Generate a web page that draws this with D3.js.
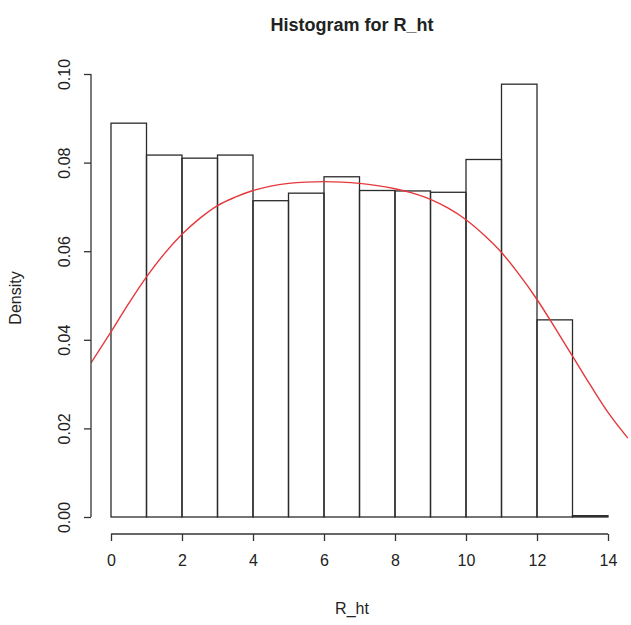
<!DOCTYPE html>
<html>
<head>
<meta charset="utf-8">
<script src="https://cdn.jsdelivr.net/npm/d3@7"></script>
<style>
  body { margin: 0; background: #fff; }
  text { font-family: "Liberation Sans", Arial, sans-serif; fill: #222; }
</style>
</head>
<body>
<div id="chart"></div>
<script>
// histogram bins (width 1) and their densities
var binStarts = [0, 1, 2, 3, 4, 5, 6, 7, 8, 9, 10, 11, 12, 13];
var densities = [0.0889, 0.0817, 0.0810, 0.0817, 0.0714, 0.0731, 0.0768,
                 0.0737, 0.0736, 0.0733, 0.0807, 0.0977, 0.0445, 0.0003];

// red density curve
var curveX = [-0.56, 0, 0.5, 1, 1.5, 2, 2.5, 3, 3.5, 4, 4.5, 5, 5.5, 6, 6.5,
              7, 7.5, 8, 8.5, 9, 9.5, 10, 10.5, 11, 11.5, 12, 12.5, 13, 13.5,
              14, 14.56];
var curveY = [0.0348, 0.0418, 0.0482, 0.0542, 0.0594, 0.0638, 0.0674, 0.0703,
              0.0722, 0.0737, 0.0747, 0.0753, 0.0756, 0.0757, 0.0756, 0.0753,
              0.0748, 0.0741, 0.0731, 0.0717, 0.0697, 0.0671, 0.0637, 0.0597,
              0.0547, 0.0491, 0.0428, 0.0363, 0.0298, 0.0236, 0.0178];

var xTicks = [0, 2, 4, 6, 8, 10, 12, 14];
var yTicks = [0, 0.02, 0.04, 0.06, 0.08, 0.10];

var W = 631, H = 625;
var svg = d3.select('#chart').append('svg')
    .attr('width', W).attr('height', H);

var x = d3.scaleLinear().domain([0, 14]).range([111, 608]);
var y = d3.scaleLinear().domain([0, 0.10]).range([517, 74]);

// plot region (R adds 4% on each side)
svg.append('clipPath').attr('id', 'clip')
  .append('rect')
    .attr('x', 91).attr('y', y(0.104))
    .attr('width', 628 - 91).attr('height', y(-0.004) - y(0.104));

// bars
svg.append('g').selectAll('rect')
    .data(binStarts)
  .enter().append('rect')
    .attr('x', function(d) { return x(d); })
    .attr('y', function(d, i) { return y(densities[i]); })
    .attr('width', function(d) { return x(d + 1) - x(d); })
    .attr('height', function(d, i) { return y(0) - y(densities[i]); })
    .attr('fill', 'none')
    .attr('stroke', '#2b2b2b')
    .attr('stroke-width', 1.3);

// density line
var pts = curveX.map(function(v, i) { return [v, curveY[i]]; });
svg.append('path')
    .datum(pts)
    .attr('clip-path', 'url(#clip)')
    .attr('fill', 'none')
    .attr('stroke', '#e5383b')
    .attr('stroke-width', 1.4)
    .attr('d', d3.line()
        .x(function(d) { return x(d[0]); })
        .y(function(d) { return y(d[1]); })
        .curve(d3.curveMonotoneX));

// x axis
var xAxis = svg.append('g')
    .attr('transform', 'translate(0,534)')
    .call(d3.axisBottom(x).tickValues(xTicks).tickSize(7).tickPadding(14)
          .tickFormat(d3.format('d')));
xAxis.select('.domain').attr('stroke', '#333').attr('stroke-width', 1.3)
    .attr('d', 'M' + x(0) + ',0H' + x(14));
xAxis.selectAll('.tick line').attr('stroke', '#333').attr('stroke-width', 1.3);
xAxis.selectAll('.tick text')
    .style('font-family', '"Liberation Sans", Arial, sans-serif')
    .style('font-size', '16px').attr('fill', '#222');

// y axis
var yAxis = svg.append('g')
    .attr('transform', 'translate(91,0)')
    .call(d3.axisLeft(y).tickValues(yTicks).tickSize(7)
          .tickFormat(d3.format('.2f')));
yAxis.select('.domain').attr('stroke', '#333').attr('stroke-width', 1.3)
    .attr('d', 'M0,' + y(0) + 'V' + y(0.10));
yAxis.selectAll('.tick line').attr('stroke', '#333').attr('stroke-width', 1.3);
yAxis.selectAll('.tick text')
    .style('font-family', '"Liberation Sans", Arial, sans-serif')
    .style('font-size', '16px').attr('fill', '#222')
    .attr('x', null).attr('dy', null)
    .attr('text-anchor', 'middle')
    .attr('transform', 'translate(-27,0) rotate(-90)')
    .attr('y', 6);

// labels
svg.append('text')
    .attr('x', 352).attr('y', 31)
    .attr('text-anchor', 'middle')
    .style('font-size', '18px').style('font-weight', 'bold')
    .text('Histogram for R_ht');

svg.append('text')
    .attr('x', 352).attr('y', 614)
    .attr('text-anchor', 'middle')
    .style('font-size', '16px')
    .text('R_ht');

svg.append('text')
    .attr('transform', 'translate(21,298) rotate(-90)')
    .attr('text-anchor', 'middle')
    .style('font-size', '16px')
    .text('Density');
</script>
</body>
</html>
